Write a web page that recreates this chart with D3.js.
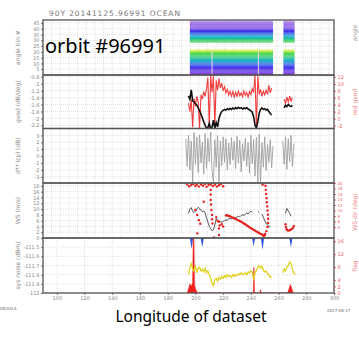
<!DOCTYPE html>
<html>
<head>
<meta charset="utf-8">
<script src="https://cdn.jsdelivr.net/npm/d3@7"></script>
<style>
  body { margin: 0; background: #fff; }
  svg { display: block; }
</style>
</head>
<body>
<div id="chart"></div>
<script>
// ---- data ----
var longitudeTicks = [100, 120, 140, 160, 180, 200, 220, 240, 260, 280, 300];

// panel 1: value of each angle bin (0..46), null = empty band
var angleBins = [0,1,2,3,4,5,6,7,8,9,10,11,12,13,14,15,16,17,18,19,20,21,22,23,24,25,26,27,28,29,30,31,32,33,34,35,36,37,38,39,40,41,42,43,44,45,46];
var angleBinValue = [0.02,0.05,0.07,0.1,0.12,0.15,0.18,0.22,0.27,0.32,0.38,0.44,0.5,0.55,0.6,0.65,0.7,0.75,0.8,0.86,0.93,1.0,
  null,null,null,null,null,null,
  0.78,0.72,0.66,0.6,0.54,0.48,0.4,0.33,0.27,0.2,0.15,0.12,0.1,0.08,0.06,0.05,0.04,0.03,0.02];
var swathSegments = [[196, 256], [263.5, 271.5]];
var swathStreaks = [212, 245.5];

// panel 2: gvod (black, left axis) and red series (right axis)
var gvodBlack = [[195,-1.35],[196,-1.45],[197,-1.18],[198,-1.5],[199,-1.52],[200,-1.58],[201,-1.62],[202,-1.7],[203,-1.78],[204,-1.88],[205,-1.98],[206,-2.1],[207,-2.2],[208,-2.28],[209,-2.26],[210,-2.15],[211,-2.28],[212,-2.25],[213,-2.05],[214,-2.28],[215,-2.12],[216,-2.24],[217,-2.0],[218,-1.88],[219,-1.8],[220,-1.77],[221,-1.74],[222,-1.76],[223,-1.72],[224,-1.75],[225,-1.71],[226,-1.74],[227,-1.7],[228,-1.73],[229,-1.69],[230,-1.72],[231,-1.68],[232,-1.71],[233,-1.69],[234,-1.73],[235,-1.7],[236,-1.72],[237,-1.69],[238,-1.73],[239,-1.75],[240,-1.78],[241,-1.82],[242,-1.95],[243,-2.2],[244,-2.28],[245,-2.1],[246,-1.85],[247,-1.74],[248,-1.7],[249,-1.74],[250,-1.72],[251,-1.76],[252,-1.74],[253,-1.8],[254,-1.86],[255,-1.9],[256,null],
  [264,-1.7],[265,-1.62],[266,-1.66],[267,-1.6],[268,-1.64],[269,-1.66],[270,-1.62]];
var gvodRed = [[195,4.5],[196,2.0],[197,5.5],[198,-2.5],[199,5.8],[200,3.6],[201,6.4],[202,4.8],[203,-2.8],[204,6.9],[205,5.6],[206,7.8],[207,6.4],[208,8.6],[209,11.8],[210,-2.8],[211,12.4],[212,7.5],[213,12.5],[214,-2.0],[215,11.0],[216,8.2],[217,11.6],[218,8.8],[219,10.2],[220,8.0],[221,9.2],[222,7.4],[223,8.4],[224,6.8],[225,7.9],[226,6.5],[227,7.8],[228,6.2],[229,7.6],[230,6.4],[231,7.9],[232,6.6],[233,7.4],[234,6.3],[235,8.0],[236,6.7],[237,7.5],[238,6.2],[239,7.8],[240,6.9],[241,8.6],[242,7.5],[243,12.5],[244,-2.5],[245,12.2],[246,7.0],[247,8.4],[248,6.4],[249,7.9],[250,6.8],[251,8.2],[252,7.0],[253,9.6],[254,7.4],[255,8.8],[256,null],
  [264,5.6],[265,4.4],[266,6.2],[267,4.8],[268,6.5],[269,5.0],[270,6.0]];

// panel 3: lcpl difference (gray)
var lcplGray = [[193,2.5],[194,-1.5],[195,3.0],[196,-2.0],[197,2.2],[198,-3.8],[199,3.4],[200,-1.2],[201,2.8],[202,-2.4],[203,3.1],[204,-1.0],[205,2.0],[206,-2.6],[207,3.3],[208,-1.8],[209,2.6],[210,-0.8],[211,3.5],[212,-2.2],[213,-3.8],[214,2.4],[215,-1.6],[216,3.0],[217,-3.7],[218,2.2],[219,-1.4],[220,2.8],[221,-0.9],[222,2.5],[223,-2.0],[224,1.9],[225,-1.2],[226,2.7],[227,-0.6],[228,2.1],[229,-1.8],[230,2.9],[231,-1.0],[232,2.3],[233,-2.3],[234,1.8],[235,-0.7],[236,2.6],[237,-1.5],[238,2.0],[239,-2.5],[240,3.0],[241,-1.1],[242,2.4],[243,-2.9],[244,2.7],[245,-3.8],[246,3.2],[247,-3.7],[248,2.0],[249,-1.6],[250,2.8],[251,-2.1],[252,1.7],[253,-0.9],[254,2.4],[255,-1.7],[256,1.5],[257,null],
  [263,2.2],[264,-1.2],[265,2.8],[266,-1.9],[267,2.5],[268,-0.8],[269,3.0],[270,-1.5],[271,1.8]];

// panel 4: wind speed (black line) and red dots (right axis)
var windBlack = [[195,8.5],[196,10.0],[197,10.5],[198,9.2],[199,8.8],[200,9.3],[201,10.0],[202,10.6],[203,10.2],[204,9.5],[205,9.0],[206,9.4],[207,8.6],[208,7.0],[209,5.5],[210,4.0],[211,3.2],[212,2.5],[213,2.8],[214,4.5],[215,6.8],[216,6.0],[217,5.2],[218,5.8],[219,5.4],[220,5.7],[221,6.0],[222,6.3],[223,6.1],[224,6.6],[225,6.8],[226,6.5],[227,7.0],[228,7.2],[229,6.9],[230,7.3],[231,7.5],[232,7.3],[233,7.8],[234,8.0],[235,7.7],[236,8.3],[237,8.6],[238,8.3],[239,8.9],[240,9.2],[241,9.0],[242,null],
  [245,9.2],[246,8.8],[247,null],[248,8.2],[249,7.2],[250,6.0],[251,5.0],[252,4.6],[253,4.0],[254,3.8],[255,null],
  [265,8.5],[266,10.2],[267,9.4],[268,8.6],[269,7.5]];
var windRedDots = [[194,19.5],[195.5,18.8],[197,19.3],[198.5,19.6],[200,18.9],[201,19.4],[202.5,18.7],[204,19.5],[205.5,19.0],[207,19.6],[208,18.6],[209.5,19.3],[211,19.5],[212.5,18.9],[214,19.4],[215.5,18.7],[217,19.2],[218.5,19.6],[220,18.8],
  [200,10.2],[201.3,8.4],[202.5,6.5],[203.5,5.2],[206,13.2],[201.3,1.7],
  [211,17.5],[211,15.8],[211,13.8],[211.3,12.2],[211.5,10.2],[212,8.4],[212,6.8],[212.3,5.3],[213.3,0.2],
  [215,7.6],[216,6.2],[217,5.9],[217.5,4.6],[217,3.5],[217,1.1],[219,5.0],[220,4.2],
  [222,8.2],[223,8.3],[224,8.0],[225,7.9],[226,7.6],[227,7.4],[228,7.2],[229,6.9],[230,6.7],[231,6.4],[232,6.2],[233,5.9],[234,5.6],[235,5.3],[236,5.0],[237,4.6],[238,4.3],[239,3.9],[240,3.6],[241,3.3],[242,3.0],[243,2.7],[244,2.4],[245,2.1],[246,1.8],[247,1.5],[248,1.3],[249,1.1],[250,1.0],
  [248.5,19.4],[250.5,19.0],[250.8,17.5],[251,16.0],[251.3,14.5],[251.5,13.0],[251.8,11.5],[252,10.0],[252.3,8.5],[252.5,7.0],[252.4,5.5],[252,4.0],[251.2,2.5],[250.3,1.5],[249.2,0.5],
  [265,5.0],[265.3,4.0],[265.8,3.2],[266.5,2.8],[267.5,2.7],[268.5,2.9],[269.5,3.3],[270.5,3.7],[271,4.4]];

// panel 5: system noise (yellow, left axis), red and blue series
var noiseYellow = [[195,-111.8],[196,-111.72],[197,-111.68],[198,-111.74],[199,-111.76],[200,-111.7],[201,-111.78],[202,-111.73],[203,-111.72],[204,-111.76],[205,-111.74],[206,-111.77],[207,-111.73],[208,-111.78],[209,-111.76],[210,-111.8],[211,-111.84],[212,-111.9],[213,-111.92],[214,-111.86],[215,-111.84],[216,-111.87],[217,-111.83],[218,-111.85],[219,-111.82],[220,-111.84],[221,-111.81],[222,-111.83],[223,-111.8],[224,-111.82],[225,-111.81],[226,-111.83],[227,-111.8],[228,-111.82],[229,-111.8],[230,-111.81],[231,-111.79],[232,-111.8],[233,-111.78],[234,-111.8],[235,-111.79],[236,-111.78],[237,-111.8],[238,-111.77],[239,-111.78],[240,-111.76],[241,-111.77],[242,-111.86],[243,-111.78],[244,-111.75],[245,-111.72],[246,-111.7],[247,-111.73],[248,-111.71],[249,-111.75],[250,-111.77],[251,-111.76],[252,-111.79],[253,-111.8],[254,-111.83],[255,-111.82],[256,null],
  [263,-111.78],[264,-111.74],[265,-111.76],[266,-111.72],[267,-111.7],[268,-111.66],[269,-111.68],[270,-111.74],[271,-111.78],[272,-111.8]];
var noiseRed = [[194,0],[195,1.2],[196,2.8],[197,2.0],[198,3.2],[198.4,17],[198.9,17],[199.3,2.6],[200,1.4],[201,0.4],[202,0],[241.8,0],[242.2,8.0],[242.6,0],[246.5,0],[247,1.0],[247.5,0],[266.5,0],[267.5,1.2],[268.5,2.6],[269.5,1.4],[270.5,0]];
var noiseBlueDips = [[197.2,-111.52],[204.9,-111.5],[242,-111.49],[248.4,-111.53],[268.9,-111.5]];

// ---- layout ----
var svgWidth = 359, svgHeight = 338;
var left = 43, right = 334;
var panelTops = [20, 75, 128.5, 183, 238, 293];

var svg = d3.select("#chart").append("svg")
  .attr("width", svgWidth)
  .attr("height", svgHeight);

var x = d3.scaleLinear().domain([90, 300]).range([left, right]);

var panels = [
  { label: "angle bin #", domain: [0, 47.5], ticks: [5,10,15,20,25,30,35,40,45] },
  { label: "gvod (dB/deg)", domain: [-2.29, -0.75], ticks: [-2.2,-2,-1.8,-1.6,-1.4,-1.2,-1,-0.8],
    rdomain: [-2.86, 12.57], rticks: [-2,0,2,4,6,8,10,12] },
  { label: "d** lcpl (dB)", domain: [-3.9, 4.0], ticks: [-3,-2,-1,0,1,2,3] },
  { label: "WS (m/s)", domain: [0, 19], ticks: [0,2,4,6,8,10,12,14,16,18],
    rdomain: [0, 20], rticks: [4,6,8,10,12,14,16,18,20] },
  { label: "sys noise (dBm)", domain: [-112, -111.4], ticks: [-112,-111.9,-111.8,-111.7,-111.6,-111.5],
    rdomain: [0, 17], rticks: [0,2,4,8,12,16] }
];

var fmt = function(d) { return String(d); };
var defs = svg.append("defs");

panels.forEach(function(p, i) {
  p.top = panelTops[i];
  p.bottom = panelTops[i + 1];
  p.y = d3.scaleLinear().domain(p.domain).range([p.bottom, p.top]);
  if (p.rdomain) p.yr = d3.scaleLinear().domain(p.rdomain).range([p.bottom, p.top]);

  defs.append("clipPath").attr("id", "clip" + i)
    .append("rect")
    .attr("x", left).attr("y", p.top)
    .attr("width", right - left).attr("height", p.bottom - p.top);

  var g = svg.append("g");
  p.g = g;

  // grid
  var xgrid = i < 4 ? d3.range(90, 300, 6.25) : longitudeTicks;
  g.selectAll(".vg").data(xgrid).enter().append("line")
    .attr("x1", d => x(d)).attr("x2", d => x(d))
    .attr("y1", p.top).attr("y2", p.bottom)
    .attr("stroke", "#cfcfcf").attr("stroke-width", 0.6)
    .attr("stroke-dasharray", "1,1");
  g.selectAll(".hg").data(p.ticks).enter().append("line")
    .attr("x1", left).attr("x2", right)
    .attr("y1", d => p.y(d)).attr("y2", d => p.y(d))
    .attr("stroke", "#cfcfcf").attr("stroke-width", 0.6)
    .attr("stroke-dasharray", "1,1");

  // left axis
  var la = g.append("g")
    .attr("transform", "translate(" + left + ",0)")
    .call(d3.axisLeft(p.y).tickValues(p.ticks).tickSize(2).tickPadding(1.5).tickFormat(fmt));
  la.select(".domain").remove();
  la.selectAll("text").attr("font-size", 5).attr("fill", "#888")
    .attr("font-family", "DejaVu Sans, sans-serif");
  la.selectAll("line").attr("stroke", "#777");

  if (p.yr) {
    var ra = g.append("g")
      .attr("transform", "translate(" + right + ",0)")
      .call(d3.axisRight(p.yr).tickValues(p.rticks).tickSize(2).tickPadding(1.5).tickFormat(fmt));
    ra.select(".domain").remove();
    ra.selectAll("text").attr("font-size", i === 3 ? 4 : 5).attr("fill", "#f06060")
      .attr("font-family", "DejaVu Sans, sans-serif");
    ra.selectAll("line").attr("stroke", "#f07070");
  }

  // y label
  svg.append("text")
    .attr("transform", "translate(20," + ((p.top + p.bottom) / 2) + ") rotate(-90)")
    .attr("text-anchor", "middle")
    .attr("font-family", "DejaVu Sans, sans-serif")
    .attr("font-size", 6)
    .attr("fill", "#888")
    .text(p.label);

  p.plot = svg.append("g").attr("clip-path", "url(#clip" + i + ")");
});

// ---- panel 1: swath of angle bins ----
var colour = d3.scaleLinear()
  .domain([0, 0.25, 0.5, 0.75, 1])
  .range(["#7a22d8", "#3040f0", "#14b4c8", "#34d050", "#d4f048"]);
var p1 = panels[0];
var cells = [];
angleBins.forEach(function(b, k) {
  if (angleBinValue[k] == null) return;
  swathSegments.forEach(function(s) { cells.push({ bin: b, v: angleBinValue[k], a: s[0], b: s[1] }); });
});
p1.plot.selectAll("rect.cell").data(cells).enter().append("rect")
  .attr("x", d => x(d.a))
  .attr("width", d => x(d.b) - x(d.a))
  .attr("y", d => p1.y(d.bin + 1))
  .attr("height", d => p1.y(d.bin) - p1.y(d.bin + 1))
  .attr("fill", d => colour(d.v))
  .attr("opacity", d => d.bin > 38 ? 0.5 + (46 - d.bin) * 0.05 : 1);
p1.plot.selectAll("line.streak").data(swathStreaks).enter().append("line")
  .attr("x1", d => x(d)).attr("x2", d => x(d))
  .attr("y1", p1.y(0)).attr("y2", p1.y(21))
  .attr("stroke", "#f2dcf2").attr("stroke-width", 1.2).attr("opacity", 0.8);

// ---- panel 2 ----
var p2 = panels[1];
p2.plot.append("path").datum(gvodRed)
  .attr("d", d3.line().defined(d => d[1] != null).x(d => x(d[0])).y(d => p2.yr(d[1])))
  .attr("fill", "none").attr("stroke", "#f02828").attr("stroke-width", 1.1).attr("opacity", 0.9);
p2.plot.append("path").datum(gvodBlack)
  .attr("d", d3.line().defined(d => d[1] != null).x(d => x(d[0])).y(d => p2.y(d[1])))
  .attr("fill", "none").attr("stroke", "#111").attr("stroke-width", 1.6);

// ---- panel 3 ----
var p3 = panels[2];
p3.plot.append("path").datum(lcplGray)
  .attr("d", d3.line().defined(d => d[1] != null).x(d => x(d[0])).y(d => p3.y(d[1])))
  .attr("fill", "none").attr("stroke", "#a0a0a0").attr("stroke-width", 0.9);

// ---- panel 4 ----
var p4 = panels[3];
p4.plot.append("path").datum(windBlack)
  .attr("d", d3.line().defined(d => d[1] != null).x(d => x(d[0])).y(d => p4.y(d[1])))
  .attr("fill", "none").attr("stroke", "#444").attr("stroke-width", 0.9);
p4.plot.selectAll("circle").data(windRedDots).enter().append("circle")
  .attr("cx", d => x(d[0])).attr("cy", d => p4.yr(d[1]))
  .attr("r", 1.2).attr("fill", "#e52020");

// ---- panel 5 ----
var p5 = panels[4];
p5.plot.selectAll("path.dip").data(noiseBlueDips).enter().append("path")
  .attr("d", d => "M" + (x(d[0]) - 1.6) + "," + p5.top + "L" + x(d[0]) + "," + p5.y(d[1]) + "L" + (x(d[0]) + 1.6) + "," + p5.top + "Z")
  .attr("fill", "#3050e0");
p5.plot.append("path").datum(noiseRed)
  .attr("d", d3.area().x(d => x(d[0])).y0(p5.yr(0)).y1(d => p5.yr(d[1])))
  .attr("fill", "#f02020").attr("stroke", "#f02020").attr("stroke-width", 0.6);
p5.plot.append("path").datum(noiseYellow)
  .attr("d", d3.line().defined(d => d[1] != null).x(d => x(d[0])).y(d => p5.y(d[1])))
  .attr("fill", "none").attr("stroke", "#e0d020").attr("stroke-width", 1.3);

// bottom axis
var xa = svg.append("g")
  .attr("transform", "translate(0," + panelTops[5] + ")")
  .call(d3.axisBottom(x).tickValues(longitudeTicks).tickSize(2).tickPadding(1.5));
xa.select(".domain").remove();
xa.selectAll("text").attr("font-size", 5).attr("fill", "#888")
  .attr("font-family", "DejaVu Sans, sans-serif");
xa.selectAll("line").attr("stroke", "#777");

// panel frames
panels.forEach(function(p) {
  svg.append("rect")
    .attr("x", left).attr("y", p.top)
    .attr("width", right - left).attr("height", p.bottom - p.top)
    .attr("fill", "none").attr("stroke", "#555").attr("stroke-width", 1.3);
});

// texts
svg.append("text")
  .attr("x", 49).attr("y", 16)
  .attr("font-family", "DejaVu Sans, sans-serif")
  .attr("font-size", 7.5).attr("fill", "#777")
  .attr("textLength", 131)
  .text("90Y 20141125.96991  OCEAN");

svg.append("text")
  .attr("x", 45).attr("y", 53)
  .attr("font-family", "Noto Sans, sans-serif")
  .attr("font-size", 20).attr("fill", "#000")
  .text("orbit #96991");

svg.append("text")
  .attr("x", 191).attr("y", 322)
  .attr("text-anchor", "middle")
  .attr("font-family", "Noto Sans, sans-serif")
  .attr("font-size", 15.5).attr("fill", "#000")
  .text("Longitude of dataset");

svg.append("text")
  .attr("x", 0).attr("y", 310)
  .attr("font-family", "DejaVu Sans, sans-serif")
  .attr("font-size", 4).attr("fill", "#666")
  .text("05/03LA");

svg.append("text")
  .attr("x", 327).attr("y", 312)
  .attr("font-family", "DejaVu Sans, sans-serif")
  .attr("font-size", 4).attr("fill", "#666")
  .text("2017-08-17");

// right side labels, cut by the window edge
var rightLabels = [
  { text: "angle", y: 33, c: "#999" },
  { text: "red gvod", y: 102, c: "#f08080" },
  { text: "WS dir (deg)", y: 212, c: "#f08080" },
  { text: "flag", y: 266, c: "#f08080" }
];
rightLabels.forEach(function(r) {
  svg.append("text")
    .attr("transform", "translate(357," + r.y + ") rotate(-90)")
    .attr("text-anchor", "middle")
    .attr("font-family", "DejaVu Sans, sans-serif")
    .attr("font-size", 6).attr("fill", r.c)
    .text(r.text);
});
</script>
</body>
</html>
